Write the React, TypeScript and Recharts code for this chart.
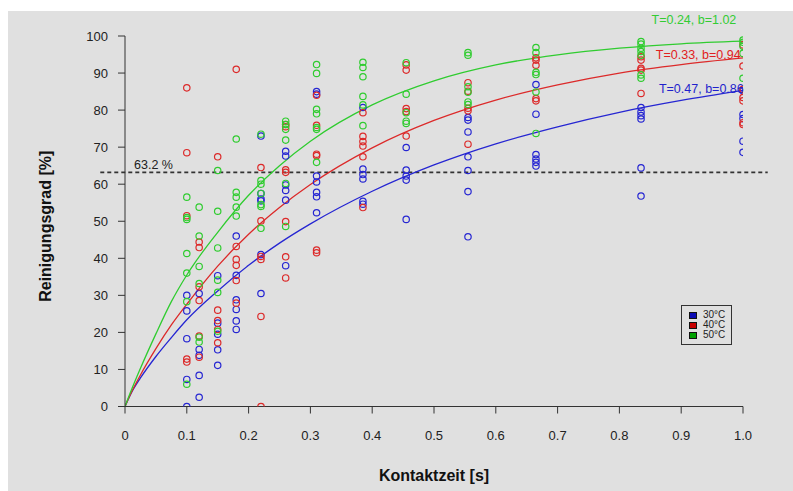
import {
  ComposedChart,
  Line,
  Scatter,
  XAxis,
  YAxis,
  ReferenceLine,
  ReferenceDot,
  Legend,
  Label,
} from 'recharts'

const FONT = '"Liberation Sans", Arial, sans-serif'

// contact times of the measurement columns [s]
const contactTimes = [0.1, 0.12, 0.15, 0.18, 0.22, 0.26, 0.31, 0.385, 0.455, 0.555, 0.665, 0.835, 1.0]

// cleaning degree [%] per column
const points30 = [
  [30, 25.8, 18.3, 7.3, 0],
  [30.5, 15.4, 13.8, 8.4, 2.5],
  [35.3, 22.5, 19.5, 15.3, 11.1],
  [46, 35.4, 28.8, 26.2, 23.1, 20.8],
  [73, 57.5, 56, 55.5, 41, 30.5],
  [68.9, 67.6, 59.8, 58.3, 55.7, 38],
  [85, 84.3, 62.2, 60.6, 57.8, 56.6, 52.3],
  [80.7, 64.1, 62.6, 61.4, 55.4, 54.6],
  [69.9, 63.8, 62.2, 61.1, 50.5],
  [78, 77.3, 74.1, 67.4, 63.7, 58, 45.8],
  [86.9, 78.9, 68, 66.8, 65.9, 64.9],
  [80.7, 79.5, 78.5, 77.6, 64.4, 56.8],
  [85.2, 78.8, 77.7, 71.6, 68.6],
]
const points40 = [
  [86, 68.5, 51.5, 12.8, 12],
  [44.4, 42.9, 32.3, 28.6, 19, 13.3],
  [67.4, 26, 23.2, 20.8, 17.2],
  [91, 43.2, 39.7, 38.1, 34, 27.9],
  [64.5, 50.1, 40.5, 39.7, 24.3, 0],
  [76.1, 75.5, 63.9, 63.2, 49.9, 40.4, 34.7],
  [84, 75.9, 68.1, 67.7, 42.2, 41.5],
  [79.3, 72.9, 71.5, 70.3, 67.4, 53.7],
  [92.2, 90.8, 80.4, 79.6, 73],
  [87.4, 85.1, 80.5, 79.8, 70.8],
  [94.1, 93.5, 92.1, 83.1, 82.5],
  [94.4, 93.5, 91.3, 90.8, 84.5],
  [97.6, 91.9, 85.6, 83.4, 82.5, 76.6, 76.1],
]
const points50 = [
  [56.5, 51, 50.5, 41.3, 36, 28.3, 6],
  [53.8, 46, 37.8, 33.2, 18.7, 17.4],
  [63.7, 52.7, 42.8, 34.1, 30.8, 20.3],
  [72.2, 57.8, 56.5, 53.8, 51.4],
  [73.5, 61, 60, 57.5, 54.5, 54, 48.1],
  [77, 76.1, 74.8, 71.9, 60.2, 48.6],
  [92.3, 89.9, 80.2, 79, 75.3, 74.8, 65.9],
  [92.9, 91.5, 89, 83.7, 81.4, 75.8],
  [92.8, 84.3, 79.3, 77, 76.4],
  [95.5, 94.8, 86.3, 84.8, 82.2, 81.5],
  [96.9, 95.5, 90.2, 89.6, 84.9, 73.7],
  [98.5, 97.8, 96.7, 95.8, 94.8, 89.5, 88.6],
  [98.9, 98.3, 97.2, 95.3, 88.6],
]

// fitted curves, sampled along x
const curveX = [0, 0.01, 0.025, 0.05, 0.075, 0.1, 0.15, 0.2, 0.25, 0.3, 0.4, 0.5, 0.6, 0.7, 0.8, 0.9, 1.0]
const curve30 = [0, 3.6, 7.7, 13.5, 18.6, 23.4, 31.2, 38.1, 44.1, 49.3, 58.1, 65.2, 70.9, 75.5, 79.4, 82.6, 85.3]
const curve40 = [0, 3.7, 8.5, 15.6, 22.0, 27.6, 37.9, 46.5, 53.7, 59.9, 69.8, 77.2, 82.7, 86.8, 90.0, 92.3, 94.1]
const curve50 = [0, 4.3, 10.3, 19.6, 28.3, 35.5, 47, 57, 65, 71.6, 81.4, 87.9, 92.2, 94.9, 96.7, 97.9, 98.6]

const fitLabels = ['T=0.47, b=0.86', 'T=0.33, b=0.94', 'T=0.24, b=1.02']
const legendLabels = ['30°C', '40°C', '50°C']
const xTicks = [0, 0.1, 0.2, 0.3, 0.4, 0.5, 0.6, 0.7, 0.8, 0.9, 1.0]
const yTicks = [0, 10, 20, 30, 40, 50, 60, 70, 80, 90, 100]
const threshold = 63.2

const colors = ['#2626d2', '#dc2a2a', '#30cc30']
const legendColors = ['#0b0bb4', '#c80000', '#00a000']
const textColors = ['#1f1fcc', '#e02020', '#33cc33']

const toPoints = (cols: number[][]) =>
  cols.flatMap((vals, i) => vals.map(y => ({ x: contactTimes[i], y })))
const toCurve = (vals: number[]) => curveX.map((x, i) => ({ x, y: vals[i] }))

const series = [
  { points: toPoints(points30), curve: toCurve(curve30) },
  { points: toPoints(points40), curve: toCurve(curve40) },
  { points: toPoints(points50), curve: toCurve(curve50) },
]

// label anchors in data units
const fitLabelPos = [
  { x: 0.864, y: 85.7 },
  { x: 0.859, y: 94.9 },
  { x: 0.852, y: 104.5 },
]

function ringShape(color: string) {
  // eslint-disable-next-line @typescript-eslint/no-explicit-any
  return (p: any) => (
    <circle cx={p.cx} cy={p.cy} r={3.2} fill="none" stroke={color} strokeWidth={1.2} />
  )
}

function LegendBox() {
  return (
    <div
      style={{
        border: '1px solid #333',
        width: 51,
        height: 40,
        boxSizing: 'border-box',
        padding: '4px 0 0 7px',
        fontFamily: FONT,
        fontSize: 10,
        lineHeight: '10px',
        color: '#222',
      }}
    >
      {legendLabels.map((l, i) => (
        <div key={l} style={{ display: 'flex', alignItems: 'center', height: 10 }}>
          <span
            style={{
              display: 'inline-block',
              width: 6,
              height: 5,
              background: legendColors[i],
              border: '1px solid #111',
              marginRight: 6,
            }}
          />
          {l}
        </div>
      ))}
    </div>
  )
}

export default function App() {
  return (
    <div
      style={{
        position: 'fixed',
        left: 8,
        top: 11,
        width: 785,
        height: 480,
        background: '#e0e0e0',
      }}
    >
      <ComposedChart
        width={785}
        height={480}
        margin={{ top: 25, right: 50, bottom: 20, left: 57 }}
      >
        <XAxis
          type="number"
          dataKey="x"
          domain={[0, 1]}
          ticks={xTicks}
          allowDataOverflow
          tickFormatter={v => (v === 0 ? '0' : v.toFixed(1))}
          tick={{ fontSize: 13, fill: '#222', fontFamily: FONT }}
          tickSize={7}
          tickMargin={17}
          height={64.5}
          stroke="#333"
        >
          <Label
            // eslint-disable-next-line @typescript-eslint/no-explicit-any
            content={({ viewBox }: any) => (
              <text
                x={viewBox.x + viewBox.width / 2}
                y={viewBox.y + 69}
                textAnchor="middle"
                dominantBaseline="central"
                fontFamily={FONT}
                fontWeight="bold"
                fontSize={16}
                fill="#111"
              >
                Kontaktzeit [s]
              </text>
            )}
          />
        </XAxis>
        <YAxis
          type="number"
          dataKey="y"
          domain={[0, 100]}
          ticks={yTicks}
          allowDataOverflow
          width={60}
          tick={{ fontSize: 13, fill: '#222', fontFamily: FONT }}
          tickSize={7}
          tickMargin={10}
          stroke="#333"
        >
          <Label
            // eslint-disable-next-line @typescript-eslint/no-explicit-any
            content={({ viewBox }: any) => {
              const cx = viewBox.x - 19.5
              const cy = viewBox.y + viewBox.height / 2 + 5
              return (
                <text
                  x={cx}
                  y={cy}
                  transform={`rotate(-90 ${cx} ${cy})`}
                  textAnchor="middle"
                  dominantBaseline="central"
                  fontFamily={FONT}
                  fontWeight="bold"
                  fontSize={16}
                  fill="#111"
                >
                  Reinigungsgrad [%]
                </text>
              )
            }}
          />
        </YAxis>

        <ReferenceLine
          segment={[{ x: -0.04, y: threshold }, { x: 1.04, y: threshold }]}
          ifOverflow="visible"
          stroke="#333"
          strokeWidth={1.6}
          strokeDasharray="4 3"
        />
        <ReferenceDot
          x={0.0146}
          y={65.2}
          r={0}
          fill="none"
          stroke="none"
          ifOverflow="visible"
          label={{ value: '63.2 %', position: 'right', offset: 0, fill: '#222', fontSize: 12.5, fontFamily: FONT }}
        />

        {series.map((s, i) => (
          <Scatter
            key={`pts${i}`}
            data={s.points}
            dataKey="y"
            shape={ringShape(colors[i])}
            isAnimationActive={false}
          />
        ))}
        {series.map((s, i) => (
          <Line
            key={`fit${i}`}
            data={s.curve}
            dataKey="y"
            type="monotone"
            stroke={colors[i]}
            strokeWidth={1.3}
            dot={false}
            activeDot={false}
            isAnimationActive={false}
          />
        ))}

        {fitLabels.map((t, i) => (
          <ReferenceDot
            key={t}
            x={fitLabelPos[i].x}
            y={fitLabelPos[i].y}
            r={0}
            fill="none"
            stroke="none"
            ifOverflow="visible"
            label={{ value: t, position: 'right', offset: 0, fill: textColors[i], fontSize: 12.5, fontFamily: FONT }}
          />
        ))}

        <Legend
          layout="vertical"
          align="center"
          verticalAlign="middle"
          content={() => <LegendBox />}
          wrapperStyle={{ position: 'absolute', left: 673, top: 294, width: 51, height: 40 }}
        />
      </ComposedChart>
    </div>
  )
}
